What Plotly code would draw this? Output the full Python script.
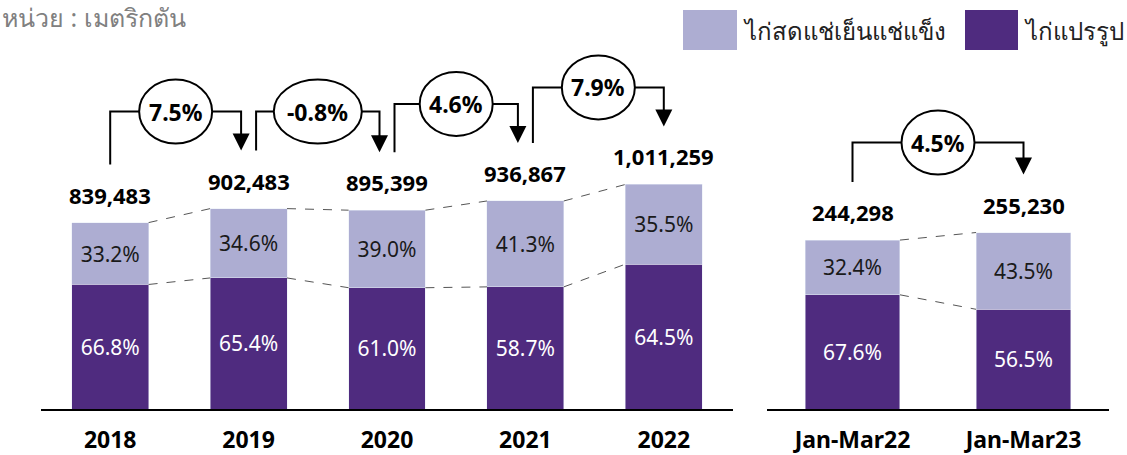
import plotly.graph_objects as go

# ---- data ----
years = ["2018", "2019", "2020", "2021", "2022"]
year_totals = [839483, 902483, 895399, 936867, 1011259]
year_fresh_pct = [33.2, 34.6, 39.0, 41.3, 35.5]
year_proc_pct = [66.8, 65.4, 61.0, 58.7, 64.5]
year_growth = ["7.5%", "-0.8%", "4.6%", "7.9%"]

quarters = ["Jan-Mar22", "Jan-Mar23"]
q_totals = [244298, 255230]
q_fresh_pct = [32.4, 43.5]
q_proc_pct = [67.6, 56.5]
q_growth = ["4.5%"]

FRESH_NAME = "ไก่สดแช่เย็นแช่แข็ง"
PROC_NAME = "ไก่แปรรูป"
UNIT_TEXT = "หน่วย : เมตริกตัน"

# ---- style ----
W, H = 1127, 455
PLOT_BOTTOM = 409
PLOT_H = 409
FRESH_COLOR = "#ADADD2"
PROC_COLOR = "#4F2B7F"
FONT = "Noto Sans, DejaVu Sans, sans-serif"
BARGAP = 0.445

LEFT_DOM = [41 / W, 733 / W]
RIGHT_DOM = [767 / W, 1109 / W]
LEFT_TOP = 1842000
RIGHT_TOP = 591500


def px_x(p):
    return p / W


def px_y(p):
    return (PLOT_BOTTOM - p) / PLOT_H


fig = go.Figure()
shapes = []
annotations = []


def add_panel(cats, totals, fresh_pct, proc_pct, growth, xa, ya, ytop, dom, level_px):
    n = len(cats)
    xs = list(range(n))
    proc_vals = [t * p / 100 for t, p in zip(totals, proc_pct)]
    fresh_vals = [t * p / 100 for t, p in zip(totals, fresh_pct)]
    fig.add_trace(go.Bar(
        x=xs, y=proc_vals, name=PROC_NAME, marker_color=PROC_COLOR,
        text=[f"{v:.1f}%" for v in proc_pct], textposition="inside",
        insidetextanchor="middle", textangle=0,
        textfont=dict(family=FONT, size=21, color="white"),
        xaxis=xa, yaxis=ya, showlegend=False, hoverinfo="skip",
    ))
    fig.add_trace(go.Bar(
        x=xs, y=fresh_vals, name=FRESH_NAME, marker_color=FRESH_COLOR,
        text=[f"{v:.1f}%" for v in fresh_pct], textposition="inside",
        insidetextanchor="middle", textangle=0,
        textfont=dict(family=FONT, size=21, color="#1a1a1a"),
        xaxis=xa, yaxis=ya, showlegend=False, hoverinfo="skip",
    ))

    hw = (1 - BARGAP) / 2
    # dashed connectors between bars
    for i in range(n - 1):
        for a, b in ((totals[i], totals[i + 1]), (proc_vals[i], proc_vals[i + 1])):
            fig.add_trace(go.Scatter(
                x=[i + hw, i + 1 - hw], y=[a, b], mode="lines",
                line=dict(color="#555555", width=1, dash="dash"),
                xaxis=xa, yaxis=ya, showlegend=False, hoverinfo="skip",
            ))

    yref = "y" if ya == "y" else "y2"
    xref = "x" if xa == "x" else "x2"
    per_px = ytop / PLOT_H
    cat_px = (dom[1] - dom[0]) * W / n

    # total labels
    for i, t in enumerate(totals):
        annotations.append(dict(
            x=i, y=t, xref=xref, yref=yref, text=f"{t:,}", showarrow=False,
            yanchor="middle", yshift=28,
            font=dict(family=FONT, size=22, color="black", weight="bold"),
        ))

    # growth brackets
    for i, g in enumerate(growth):
        shift = 7.5 / cat_px
        x0 = i + (shift if i > 0 else 0)
        x1 = i + 1 - (shift if i + 1 < n - 1 else 0)
        y0 = totals[i] + 58 * per_px
        y1 = totals[i + 1] + 58 * per_px
        lvl = max(totals[i], totals[i + 1]) + level_px * per_px
        fig.add_trace(go.Scatter(
            x=[x0, x0, x1, x1], y=[y0, lvl, lvl, y1 + 10 * per_px], mode="lines",
            line=dict(color="black", width=2),
            xaxis=xa, yaxis=ya, showlegend=False, hoverinfo="skip",
        ))
        annotations.append(dict(
            x=x1, y=y1, xref=xref, yref=yref, ax=0, ay=-18, showarrow=True,
            arrowhead=2, arrowsize=1.7, arrowwidth=2, arrowcolor="black", text="",
        ))
        ew = 73 + 15 * (len(g) - 4)
        xm = (x0 + x1) / 2
        shapes.append(dict(
            type="circle", xref=xref, yref=yref, xsizemode="pixel", ysizemode="pixel",
            xanchor=xm, yanchor=lvl, x0=-ew / 2, x1=ew / 2, y0=-32, y1=32,
            fillcolor="white", line=dict(color="black", width=2), layer="above",
        ))
        annotations.append(dict(
            x=xm, y=lvl, xref=xref, yref=yref, text=g, showarrow=False,
            font=dict(family=FONT, size=23, color="black", weight="bold"),
        ))


add_panel(years, year_totals, year_fresh_pct, year_proc_pct, year_growth,
          "x", "y", LEFT_TOP, LEFT_DOM, 97)
add_panel(quarters, q_totals, q_fresh_pct, q_proc_pct, q_growth,
          "x2", "y2", RIGHT_TOP, RIGHT_DOM, 90)

# custom legend
for x0, x1, col, name in ((683, 737, FRESH_COLOR, FRESH_NAME), (965, 1018, PROC_COLOR, PROC_NAME)):
    shapes.append(dict(
        type="rect", xref="paper", yref="paper",
        x0=px_x(x0), x1=px_x(x1), y0=px_y(50), y1=px_y(10),
        fillcolor=col, line=dict(width=0),
    ))
    annotations.append(dict(
        x=px_x(x1 + 4), y=px_y(30), xref="paper", yref="paper", text=name,
        xanchor="left", yanchor="middle", showarrow=False,
        font=dict(family=FONT, size=24, color="#222222"),
    ))

annotations.append(dict(
    x=0, y=px_y(17), xref="paper", yref="paper", text=UNIT_TEXT,
    xanchor="left", yanchor="middle", showarrow=False,
    font=dict(family=FONT, size=25, color="#808080"),
))

axis_common = dict(
    showline=True, linecolor="black", linewidth=2, showgrid=False, zeroline=False,
    ticks="outside", ticklen=9, tickcolor="rgba(0,0,0,0)",
    tickfont=dict(family=FONT, size=23, color="black", weight="bold"),
    fixedrange=True, automargin=False,
)
fig.update_layout(
    width=W, height=H,
    margin=dict(l=0, r=0, t=0, b=H - PLOT_BOTTOM),
    plot_bgcolor="white", paper_bgcolor="white",
    barmode="stack", bargap=BARGAP,
    showlegend=False,
    xaxis=dict(domain=LEFT_DOM, range=[-0.5, 4.5], tickvals=list(range(len(years))),
               ticktext=years, anchor="y", **axis_common),
    xaxis2=dict(domain=RIGHT_DOM, range=[-0.5, 1.5], tickvals=list(range(len(quarters))),
                ticktext=quarters, anchor="y2", **axis_common),
    yaxis=dict(range=[0, LEFT_TOP], visible=False, fixedrange=True),
    yaxis2=dict(range=[0, RIGHT_TOP], visible=False, anchor="x2", fixedrange=True),
    shapes=shapes,
    annotations=annotations,
    uniformtext=dict(minsize=8, mode="show"),
)

fig.write_html(
    "out.html",
    config={"displayModeBar": False},
    post_script="document.body.style.margin='0';document.body.style.overflow='hidden';",
)
